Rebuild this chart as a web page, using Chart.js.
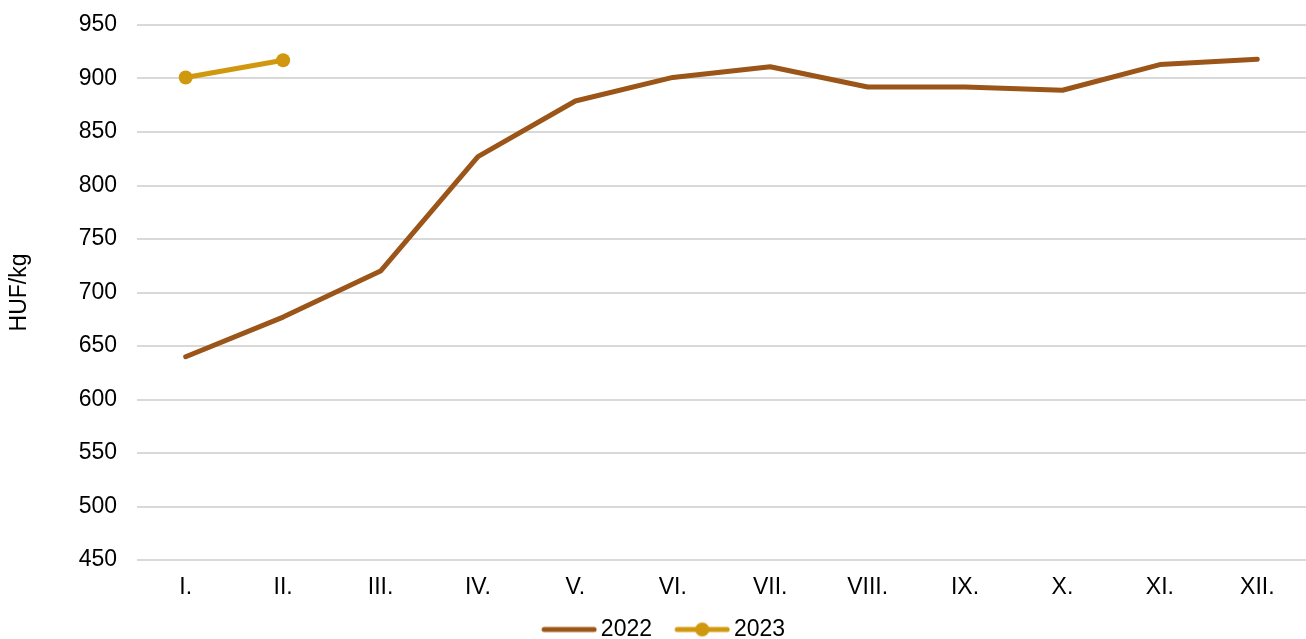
<!DOCTYPE html>
<html><head><meta charset="utf-8">
<script src="https://cdn.jsdelivr.net/npm/chart.js@4.4.1/dist/chart.umd.min.js"></script>
<style>html,body{margin:0;padding:0;background:#fff;}#wrap{width:1306px;height:639px;}</style>
</head><body><div id="wrap"><canvas id="c" width="1306" height="639"></canvas></div>
<script>
const categories = ['I.','II.','III.','IV.','V.','VI.','VII.','VIII.','IX.','X.','XI.','XII.'];
const series2022 = [640, 677, 720, 827, 879, 901, 911, 892, 892, 889, 913, 918];
const series2023 = [901, 917, null, null, null, null, null, null, null, null, null, null];
const yTicks = [450, 500, 550, 600, 650, 700, 750, 800, 850, 900, 950];

const C2022 = '#9C5518';
const C2023 = '#D0980E';
const FONT = 'Liberation Sans, Arial, sans-serif';

function legendIcon(color, dot){
  const cv = document.createElement('canvas');
  cv.width = 84; cv.height = 16;
  const g = cv.getContext('2d');
  g.strokeStyle = color; g.lineWidth = 5; g.lineCap = 'round';
  g.beginPath(); g.moveTo(31,8); g.lineTo(81,8); g.stroke();
  if (dot){ g.fillStyle = color; g.beginPath(); g.arc(56,8,7,0,Math.PI*2); g.fill(); }
  return cv;
}
const icons = [legendIcon(C2022,false), legendIcon(C2023,true)];

new Chart(document.getElementById('c'), {
  type: 'line',
  data: {
    labels: categories,
    datasets: [
      { label: '2022', data: series2022, borderColor: C2022, backgroundColor: C2022, borderWidth: 5, pointRadius: 0, pointHoverRadius: 0, tension: 0, borderCapStyle: 'round', borderJoinStyle: 'round' },
      { label: '2023', data: series2023, borderColor: C2023, backgroundColor: C2023, borderWidth: 5, pointRadius: 7, pointBackgroundColor: C2023, pointBorderWidth: 0, tension: 0, borderCapStyle: 'round' }
    ]
  },
  options: {
    responsive: false,
    animation: false,
    layout: { autoPadding: false, padding: { top: 25, right: 0, left: 0, bottom: -12 } },
    plugins: {
      tooltip: { enabled: false },
      legend: {
        position: 'bottom',
        labels: {
          font: { family: FONT, size: 23 },
          color: '#000',
          usePointStyle: true,
          pointStyleWidth: 68.5,
          boxHeight: 16,
          padding: 2,
          generateLabels: (chart) => chart.data.datasets.map((d,i)=>({
            text: d.label, pointStyle: icons[i], datasetIndex: i, fillStyle: d.borderColor, strokeStyle: d.borderColor, lineWidth: 0, hidden: false, fontColor: '#000'
          }))
        }
      }
    },
    scales: {
      x: {
        offset: true,
        afterFit: (s) => { s.height = 56; s.paddingLeft = 0; s.paddingRight = 0; },
        grid: { display: false, drawTicks: false },
        border: { display: false },
        ticks: { font: { family: FONT, size: 23 }, color: '#000', padding: 14, maxRotation: 0, autoSkip: false }
      },
      y: {
        min: 450, max: 950,
        afterBuildTicks: (s) => { s.ticks = yTicks.map(v => ({ value: v })); },
        afterFit: (s) => { s.width = 137; s.paddingTop = 0; s.paddingBottom = 0; },
        grid: { color: '#d9d9d9', lineWidth: 2, drawTicks: false },
        border: { display: false },
        ticks: { font: { family: FONT, size: 23 }, color: '#000', padding: 20 },
        title: { display: true, text: 'HUF/kg', font: { family: FONT, size: 23 }, color: '#000', padding: { top: 6, bottom: 0 } }
      }
    }
  }
});
</script></body></html>
